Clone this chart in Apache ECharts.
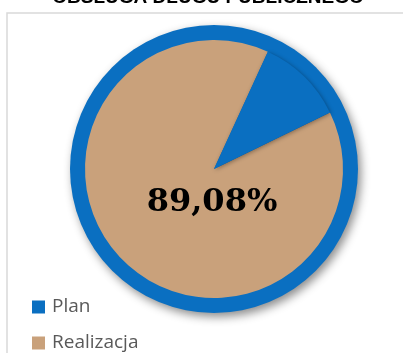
<!DOCTYPE html>
<html>
<head>
<meta charset="utf-8">
<script src="https://cdn.jsdelivr.net/npm/echarts@6/dist/echarts.min.js"></script>
<style>html,body{margin:0;padding:0;background:#fff}#c{width:403px;height:353px}</style>
</head>
<body>
<div id="c"></div>
<script>
var titleText = 'OBSŁUGA DŁUGU PUBLICZNEGO';
var categories = ['Plan', 'Realizacja'];
var planValues = [100];
var realizacjaPct = [89.08];

var blue = '#0A6FC1';
var tan = '#C9A17B';
var label = realizacjaPct[0].toFixed(2).replace('.', ',') + '%';

function mkLegend(name, top) {
  return {
    data: [{ name: name, icon: 'rect' }],
    orient: 'vertical',
    left: 32, top: top,
    padding: 0,
    itemWidth: 13, itemHeight: 13,
    itemGap: 0,
    selectedMode: false,
    itemStyle: { borderWidth: 0 },
    textStyle: { fontSize: 19, lineHeight: 22, color: '#595959', fontFamily: '"Open Sans", sans-serif', padding: [0, 0, 0, 2] }
  };
}

var chart = echarts.init(document.getElementById('c'));
chart.setOption({
  animation: false,
  backgroundColor: '#fff',
  color: [blue, tan],
  graphic: [
    { type: 'rect', z: -10, shape: { x: 7, y: 13, width: 600, height: 600 },
      style: { fill: 'none', stroke: '#d9d9d9', lineWidth: 1.5 } },
    { type: 'text', z: 10, x: 208, y: -2,
      style: { text: titleText, font: 'bold 19px "Liberation Sans", Arial, sans-serif', fill: '#000',
               align: 'center', verticalAlign: 'middle' } },
    { type: 'text', z: 20, x: 212, y: 203,
      style: { text: label, font: 'bold 32px "DejaVu Serif", serif', fill: '#000',
               align: 'center', verticalAlign: 'middle' } }
  ],
  legend: [mkLegend(categories[0], 296), mkLegend(categories[1], 332)],
  series: [
    {
      type: 'pie', center: [214, 169], radius: [0, 144], silent: true,
      label: { show: false }, labelLine: { show: false },
      itemStyle: { color: blue, shadowBlur: 10, shadowColor: 'rgba(0,0,0,0.45)', shadowOffsetX: 3, shadowOffsetY: 4 },
      data: [{ name: categories[0], value: planValues[0] }]
    },
    {
      type: 'pie', center: [214, 169], radius: [0, 129], startAngle: 26, clockwise: true, silent: true,
      label: { show: false }, labelLine: { show: false },
      data: [
        { name: categories[1], value: realizacjaPct[0], itemStyle: { color: tan } },
        { name: categories[0], value: planValues[0] - realizacjaPct[0],
          itemStyle: { color: blue, shadowBlur: 4, shadowColor: 'rgba(0,0,0,0.35)', shadowOffsetX: 1, shadowOffsetY: 1 } }
      ]
    }
  ]
});
</script>
</body>
</html>
